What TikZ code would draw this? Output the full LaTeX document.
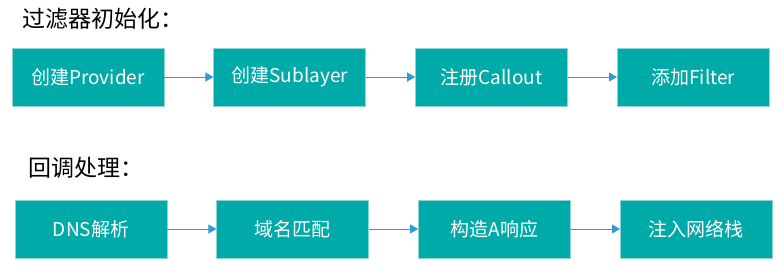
\documentclass[tikz,border=0pt]{standalone}
\usepackage{fontspec}
\setmainfont{Noto Sans CJK SC}
\usetikzlibrary{positioning}
\usetikzlibrary{arrows.meta}
\definecolor{boxteal}{HTML}{00AAA8}
\definecolor{boxedge}{HTML}{8FD3D2}
\definecolor{arrowblue}{HTML}{2D9CDB}
\begin{document}
\begin{tikzpicture}[x=1pt,y=-1pt,
        stepbox/.style={draw=boxedge,line width=0.8pt,fill=boxteal,text=white,
            minimum width=152pt,minimum height=58pt,inner sep=0pt,
            font=\fontsize{19}{21}\selectfont},
        flow/.style={draw=arrowblue,line width=1pt,-{Triangle[length=8pt,width=9pt]}},
        heading/.style={anchor=west,inner sep=0pt,font=\fontsize{23}{26}\selectfont}]
    \useasboundingbox (0,0) rectangle (784,276);

    % filter setup
    \node[heading] (init) at (22,19) {过滤器初始化：};
    \node[stepbox] (provider) at (88,77) {创建Provider};
    \node[stepbox,right=49pt of provider] (sublayer) {创建Sublayer};
    \node[stepbox,right=49pt of sublayer] (callout) {注册Callout};
    \node[stepbox,right=49pt of callout] (filter) {添加Filter};

    % callback handling
    \node[heading] (cb) at (28,168) {回调处理：};
    \node[stepbox] (dns) at (91,229) {DNS解析};
    \node[stepbox,right=49pt of dns] (match) {域名匹配};
    \node[stepbox,right=49pt of match] (reply) {构造A响应};
    \node[stepbox,right=49pt of reply] (inject) {注入网络栈};

    \foreach \a/\b in {provider/sublayer,sublayer/callout,callout/filter,
                       dns/match,match/reply,reply/inject} {
        \draw[flow] (\a) -- (\b);
    }
\end{tikzpicture}
\end{document}
